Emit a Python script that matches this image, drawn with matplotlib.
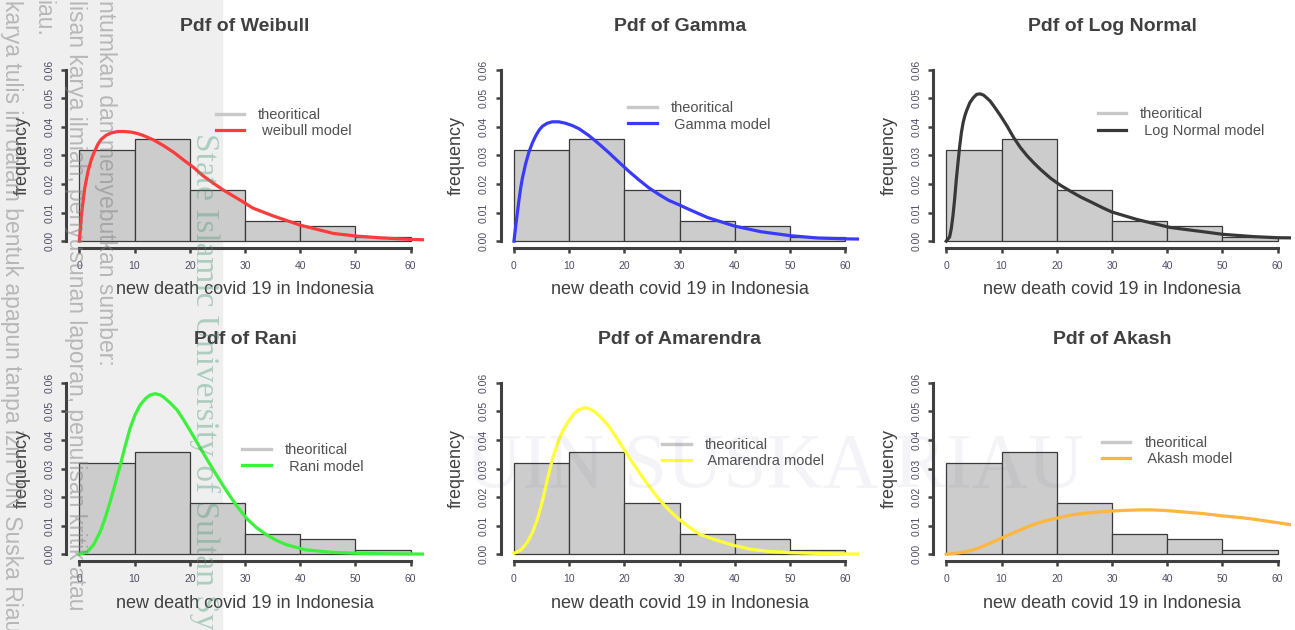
import matplotlib
matplotlib.use("Agg")
import matplotlib.pyplot as plt
from matplotlib.patches import Rectangle

plt.rcParams['font.family'] = ['Liberation Sans', 'DejaVu Sans']

# histogram of new deaths (density), bins of width 10
bin_left = [0, 10, 20, 30, 40, 50]
hist_density = [0.0319, 0.0358, 0.0178, 0.0070, 0.0053, 0.0016]

# fitted pdf curves
weibull_x = [0, 0.18, 0.42, 0.71, 1.01, 1.61, 2.2, 2.8, 3.39, 3.99, 4.88, 5.77, 6.96, 8.15,
             9.35, 10.54, 11.73, 13.5, 15.3, 17.1, 18.9, 20.7, 22.4, 24.2, 26.0, 27.8, 29.6,
             31.4, 35, 40, 46, 50, 55, 60, 64]
weibull_y = [0, 0.0037, 0.0095, 0.0142, 0.0188, 0.0247, 0.0287, 0.0316, 0.034, 0.0357, 0.0371,
             0.0379, 0.0384, 0.0384, 0.0382, 0.0377, 0.0369, 0.0354, 0.0334, 0.0311, 0.0284,
             0.0258, 0.0229, 0.0204, 0.018, 0.0159, 0.0138, 0.0116, 0.0089, 0.0056, 0.0027,
             0.0018, 0.0011, 0.0006, 0.0004]

gamma_x = [0, 0.3, 0.6, 0.9, 1.2, 1.51, 2.11, 2.71, 3.31, 3.92, 4.52, 5.12, 6.02, 6.93, 8.13,
           9.34, 10.54, 11.75, 13.55, 15.36, 17.17, 18.98, 20.78, 22.59, 24.4, 26.2, 28.0,
           29.8, 31.6, 35, 39.9, 44.7, 50.1, 55, 60, 64]
gamma_y = [0, 0.005, 0.0097, 0.0143, 0.0184, 0.0219, 0.0271, 0.0312, 0.0343, 0.0368, 0.0388,
           0.0402, 0.0413, 0.0418, 0.0418, 0.0413, 0.0405, 0.0394, 0.037, 0.0341, 0.031,
           0.0277, 0.0245, 0.0215, 0.0187, 0.0164, 0.0143, 0.0128, 0.0112, 0.0083, 0.0053,
           0.0033, 0.0019, 0.0011, 0.0008, 0.0007]

lnorm_x = [0, 0.61, 0.91, 1.22, 1.52, 1.83, 2.13, 2.44, 2.74, 3.05, 3.35, 3.66, 4.27, 4.88,
           5.49, 6.1, 6.71, 7.32, 7.93, 8.84, 9.76, 10.98, 12.2, 13.41, 14.63, 15.85, 17.07,
           18.9, 20.73, 22.56, 24.39, 26.22, 28.4, 30, 34.5, 40.5, 46.5, 50, 55.5, 60, 64]
lnorm_y = [0, 0.0015, 0.0044, 0.009, 0.0148, 0.0218, 0.0276, 0.0334, 0.038, 0.0415, 0.0438,
           0.0456, 0.0485, 0.0502, 0.0514, 0.0516, 0.0512, 0.0502, 0.0491, 0.0467, 0.0441,
           0.0404, 0.0363, 0.0328, 0.0299, 0.0274, 0.0251, 0.022, 0.0195, 0.0174, 0.0154,
           0.0137, 0.0116, 0.0102, 0.0076, 0.0048, 0.0033, 0.0024, 0.0016, 0.0012, 0.0011]

rani_x = [0, 1.4, 2.6, 3.8, 4.7, 5.6, 6.5, 7.4, 8.3, 9.2, 10.1, 11, 12, 12.8, 13.7, 14.6,
          15.2, 16.4, 17.7, 18.8, 20, 21.5, 23, 24.8, 26.7, 28.5, 30.3, 32, 33.9, 35.7, 37.5,
          41, 46, 52, 64]
rani_y = [0, 0.0007, 0.0033, 0.0079, 0.0127, 0.0184, 0.0246, 0.031, 0.0378, 0.0441, 0.0488,
          0.0522, 0.0545, 0.0557, 0.0562, 0.0558, 0.0551, 0.0531, 0.0505, 0.0473, 0.0435,
          0.0385, 0.0336, 0.0278, 0.022, 0.0169, 0.0125, 0.0094, 0.0068, 0.0048, 0.0033,
          0.0015, 0.0006, 0.0002, 0]

amar_x = [0, 1.3, 2.5, 3.4, 4.3, 5.2, 6.1, 7.0, 8, 8.9, 9.8, 10.7, 11.6, 12.8, 13.7, 14.6,
          15.8, 17, 18.5, 20, 21.5, 23, 24.8, 26.6, 28.3, 30, 31.9, 33.8, 36.8, 39.9, 42.9,
          45.9, 50.1, 56, 64]
amar_y = [0.0003, 0.0015, 0.0044, 0.0078, 0.0126, 0.019, 0.0266, 0.0335, 0.0394, 0.0435,
          0.0464, 0.0488, 0.0505, 0.0513, 0.0509, 0.0499, 0.0478, 0.0452, 0.041, 0.0365,
          0.032, 0.0277, 0.0229, 0.0184, 0.015, 0.012, 0.0092, 0.0068, 0.0048, 0.003,
          0.0017, 0.001, 0.0005, 0.0002, 0]

akash_x = [0, 2.2, 4.3, 5.8, 7.3, 8.6, 10, 11.7, 13.4, 14.9, 16.4, 18.2, 20, 21.8, 23.6, 26,
           28.4, 30.8, 33.2, 35.3, 37.4, 39.5, 41.6, 44, 46.5, 48.3, 50, 52.8, 55.5, 59, 62.4, 64]
akash_y = [0, 0.0004, 0.0012, 0.0021, 0.0033, 0.0044, 0.0056, 0.0071, 0.0085, 0.0097, 0.0108,
           0.0118, 0.0126, 0.0134, 0.014, 0.0145, 0.0149, 0.0152, 0.0154, 0.0155, 0.0155,
           0.0153, 0.0150, 0.0146, 0.0142, 0.0138, 0.0134, 0.0129, 0.0123, 0.0113, 0.0103,
           0.0099]

titles = ["Pdf of Weibull", "Pdf of Gamma", "Pdf of Log Normal",
          "Pdf of Rani", "Pdf of Amarendra", "Pdf of Akash"]
model_labels = [" weibull model", " Gamma model", " Log Normal model",
                " Rani model", " Amarendra model", " Akash model"]
curves = [(weibull_x, weibull_y), (gamma_x, gamma_y), (lnorm_x, lnorm_y),
          (rani_x, rani_y), (amar_x, amar_y), (akash_x, akash_y)]
colors = ["#ff3b3b", "#3a3aff", "#383838", "#3cf03c", "#ffff3a", "#ffb63c"]
legend_pos = [(0.418, 0.676), (0.356, 0.711), (0.46, 0.678),
              (0.493, 0.554), (0.451, 0.584), (0.472, 0.595)]

W, H = 1295, 630
fig = plt.figure(figsize=(W / 100, H / 100), dpi=100)

# grey strip of the scanned page on the left
fig.add_artist(Rectangle((0, 0), 222 / W, 1, transform=fig.transFigure,
                         color="#efefef", zorder=0))

col_left = [66, 500.7, 933]
row_top = [63, 376]
ax_w, ax_h = 358, 185
dark = "#404040"

for i in range(6):
    r, c = divmod(i, 3)
    L, T = col_left[c], row_top[r]
    ax = fig.add_axes([L / W, 1 - (T + ax_h) / H, ax_w / W, ax_h / H])
    ax.set_facecolor("none")

    ax.bar(bin_left, hist_density, width=10, align="edge", color="#cccccc",
           edgecolor="#3a3a3a", linewidth=0.9)
    ax.plot([], [], color="#c8c8c8", lw=2.4, label="theoritical")
    cx, cy = curves[i]
    ax.plot(cx, cy, color=colors[i], lw=2.3, label=model_labels[i],
            solid_joinstyle="round")

    ax.set_xlim(-2.4, 62.4)
    ax.set_ylim(-0.0024, 0.0624)
    for s in ["top", "right"]:
        ax.spines[s].set_visible(False)
    ax.spines["left"].set_bounds(0, 0.06)
    ax.spines["bottom"].set_bounds(0, 60)
    for s in ["left", "bottom"]:
        ax.spines[s].set_linewidth(2.2)
        ax.spines[s].set_color(dark)

    ax.set_xticks(range(0, 61, 10))
    ax.set_yticks([0, 0.01, 0.02, 0.03, 0.04, 0.05, 0.06])
    ax.set_yticklabels(["0.00", "0.01", "0.02", "0.03", "0.04", "0.05", "0.06"],
                       rotation=90, va="center")
    ax.tick_params(axis="both", length=3.5, width=1.8, color=dark,
                   labelsize=7.5, labelcolor="#4d4d66")
    ax.tick_params(axis="x", pad=6)
    ax.tick_params(axis="y", pad=5)

    ax.set_title(titles[i], fontsize=14, fontweight="bold", color=dark, pad=23)
    ax.set_xlabel("new death covid 19 in Indonesia", fontsize=13, color=dark)
    ax.set_ylabel("frequency", fontsize=13, color=dark)
    ax.xaxis.set_label_coords(0.5, -42 / ax_h)
    ax.xaxis.label.set_va("center")
    ax.yaxis.set_label_coords(-44 / ax_w, 0.5)
    ax.yaxis.label.set_va("center")

    ax.legend(loc="center left", bbox_to_anchor=legend_pos[i], frameon=False,
              fontsize=10.5, handlelength=1.95, handletextpad=0.95,
              labelspacing=0.15, borderpad=0, borderaxespad=0, labelcolor="#505050")

# watermark of the source document, faint and on top
wm = [(11, "karya tulis ini dalam bentuk apapun tanpa izin UIN Suska Riau"),
      (43, "iau."),
      (75, "lisan karya ilmiah, penyusunan laporan, penulisan kritik atau"),
      (105, "ntumkan dan menyebutkan sumber:")]
for x, t in wm:
    fig.text(x / W, 1.0, t, rotation=-90, ha="center", va="top", fontsize=16.5,
             color="#808080", alpha=0.5, zorder=10)
fig.text(205 / W, 1 - 133 / H, "State Islamic University of Sultan Syarif Kasim Riau",
         rotation=-90, ha="center", va="top", fontsize=24, family="Liberation Serif",
         color="#4f9a78", alpha=0.4, zorder=10)
fig.text(775 / W, 1 - 468 / H, "UIN SUSKA RIAU", ha="center", va="center",
         fontsize=56, family="Liberation Serif", color="#30307a", alpha=0.05, zorder=10)

fig.savefig("out.png", dpi=100)
